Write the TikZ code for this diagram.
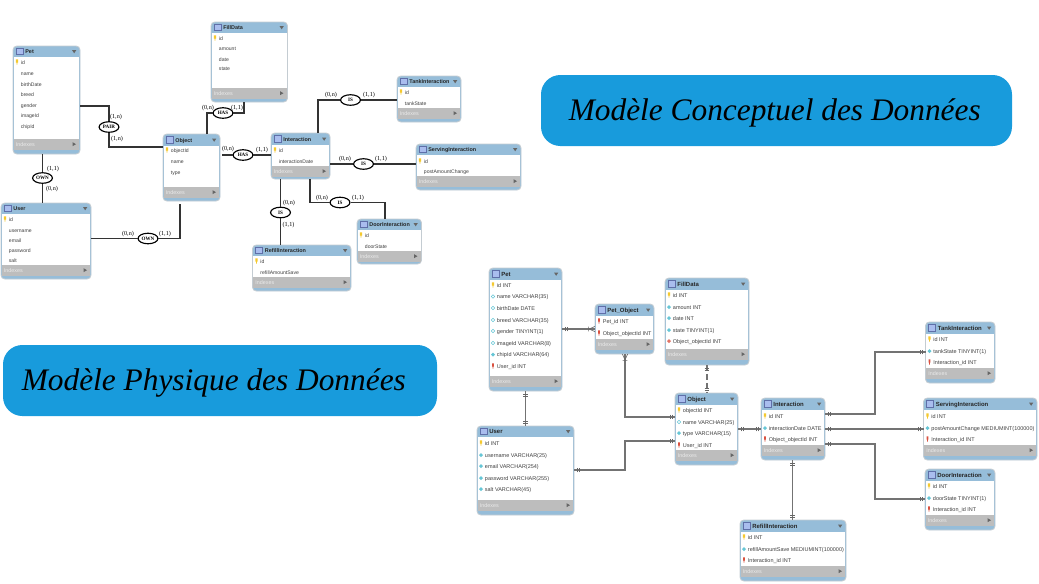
\documentclass[tikz,border=0pt]{standalone}
\usepackage{fontspec}
\setmainfont{Liberation Serif}
\setsansfont{Liberation Sans}
\usetikzlibrary{shapes.geometric,decorations.markings}
\definecolor{headblue}{HTML}{96BDD9}
\definecolor{indexgray}{HTML}{BDBDBD}
\definecolor{tableedge}{HTML}{C4CCD2}
\definecolor{bannerblue}{HTML}{189BDC}
\definecolor{iconblue}{HTML}{A9BDEE}
\definecolor{iconedge}{HTML}{5F6FA8}
\definecolor{keyyellow}{HTML}{F5C92E}
\definecolor{fkred}{HTML}{D9503F}
\definecolor{attrcyan}{HTML}{66C6D6}
\tikzset{
  tableshape/.style={draw=tableedge,line width=0.5pt,fill=headblue,rounded corners=2.2pt,anchor=north west,inner sep=0pt,outer sep=0pt},
  rowtext/.style={anchor=base west,inner sep=0pt,text=black!75,font=\sffamily\fontsize{2.9}{3}\selectfont},
  titletext/.style={anchor=base west,inner sep=0pt,text=black!85,font=\sffamily\bfseries\fontsize{3.1}{3.5}\selectfont},
  indextext/.style={anchor=base west,inner sep=0pt,text=white!92!black,font=\sffamily\fontsize{3.05}{3.5}\selectfont},
  bignames/.style={
    rowtext/.append style={font=\sffamily\fontsize{3.12}{3.5}\selectfont},
    titletext/.append style={font=\sffamily\bfseries\fontsize{3.4}{3.8}\selectfont}},
  assoc/.style={ellipse,draw=black,line width=0.65pt,fill=white,inner sep=0pt,minimum width=11.3pt,minimum height=6pt,font=\bfseries\fontsize{2.9}{3}\selectfont},
  card/.style={inner sep=0pt,text=black,font=\fontsize{3.5}{3.8}\selectfont},
  mcdline/.style={draw=black!80,line width=0.75pt},
  mpdline/.style={draw=black!55,line width=0.65pt},
  startticks/.style={postaction={decorate,decoration={markings,
    mark=at position 1.7pt with {\draw[solid,black!60,line width=0.3pt] (0,-1.3pt) -- (0,1.3pt);},
    mark=at position 2.9pt with {\draw[solid,black!60,line width=0.3pt] (0,-1.3pt) -- (0,1.3pt);}}}},
  endticks/.style={postaction={decorate,decoration={markings,
    mark=at position -1.7pt with {\draw[solid,black!60,line width=0.3pt] (0,-1.3pt) -- (0,1.3pt);},
    mark=at position -2.9pt with {\draw[solid,black!60,line width=0.3pt] (0,-1.3pt) -- (0,1.3pt);}}}},
  endcrow/.style={postaction={decorate,decoration={markings,
    mark=at position -3.6pt with {\draw[solid,black!60,line width=0.35pt] (0,-1.4pt) -- (0,1.4pt) (0.3pt,0) -- (3.6pt,1.5pt) (0.3pt,0) -- (3.6pt,-1.5pt);}}}},
  banner/.style={fill=bannerblue,rounded corners=11pt,inner sep=0pt,text height=13pt,text depth=1.2pt,font=\itshape\fontsize{17.85}{20}\selectfont}
}
% row markers, at the given pixel position
\newcommand{\markkey}[2]{\fill[keyyellow] (#1-1.1,#2-2.6) rectangle (#1+1.1,#2+0.6) (#1-0.45,#2+0.6) rectangle (#1+0.45,#2+2.6);}
\newcommand{\markfk}[2]{\fill[fkred] (#1-0.9,#2-2.6) rectangle (#1+0.9,#2+0.6) (#1-0.4,#2+0.6) rectangle (#1+0.4,#2+2.6);}
\newcommand{\markattr}[2]{\fill[attrcyan] (#1-2,#2) -- (#1,#2-2) -- (#1+2,#2) -- (#1,#2+2) -- cycle;}
\newcommand{\markopen}[2]{\draw[attrcyan,fill=white,line width=0.3pt] (#1-1.7,#2) -- (#1,#2-1.7) -- (#1+1.7,#2) -- (#1,#2+1.7) -- cycle;}
\newcommand{\markfkattr}[2]{\fill[fkred!80] (#1-2,#2) -- (#1,#2-2) -- (#1+2,#2) -- (#1,#2+2) -- cycle;}
\newcommand{\marknone}[2]{}
% name, x1, y1, x2, y2, header bottom, indexes top, title, rows (y/marker/text)
\newcommand{\tablebox}[9]{
  \pgfmathsetmacro\boxw{#4-#2}
  \pgfmathsetmacro\boxh{#5-#3}
  \node[tableshape,minimum width=\boxw*0.02cm,minimum height=\boxh*0.02cm] (#1) at (#2,#3) {};
  \fill[white] (#2+0.6,#6) rectangle (#4-0.6,#7);
  \fill[indexgray] (#2+0.6,#7) rectangle (#4-0.6,#7+10.5);
  \draw[fill=iconblue,draw=iconedge,line width=0.3pt] (#2+3,#3+2.4) rectangle (#2+10,#6-2.6);
  \node[titletext] (#1-title) at (#2+12,{(#3+#6)/2+2}) {#8};
  \fill[black!60] (#4-8,{(#3+#6)/2-1.5}) -- (#4-3.6,{(#3+#6)/2-1.5}) -- (#4-5.8,{(#3+#6)/2+1.8}) -- cycle;
  \node[indextext] (#1-indexes) at (#2+2.6,#7+7.1) {Indexes};
  \fill[black!60] (#4-7.5,#7+3.2) -- (#4-4,#7+5.2) -- (#4-7.5,#7+7.2) -- cycle;
  \foreach \rowy/\rowmark/\rowtext [count=\rowno] in {#9}{
    \csname mark\rowmark\endcsname{#2+4}{\rowy}
    \node[rowtext] (#1-\rowno) at (#2+7.6,\rowy+2.2) {\rowtext};
  }
}
\begin{document}
\begin{tikzpicture}[x=0.02cm,y=-0.02cm]
\useasboundingbox (0,0) rectangle (1039,583);

% banners
\node[banner,minimum width=471*0.02cm,minimum height=71*0.02cm] (mcdtitle) at (776.5,110.5) {Modèle Conceptuel des Données\kern2pt};
\node[banner,minimum width=434*0.02cm,minimum height=71*0.02cm] (mpdtitle) at (220,380.5) {Modèle Physique des Données\kern7pt};

% conceptual tables
\tablebox{pet}{13}{46}{80}{154}{57}{139}{Pet}{62/key/id,73/none/name,84/none/birthDate,94.5/none/breed,105/none/gender,115.5/none/imageId,126.5/none/chipId}
\tablebox{filldata}{211}{22}{287.5}{102}{33}{88}{FillData}{38/key/id,48.5/none/amount,59/none/date,68/none/state}
\tablebox{object}{163}{134}{220}{201}{146}{187}{Object}{150/key/objectId,161/none/name,172/none/type}
\tablebox{user}{1}{203}{91}{279}{214}{265}{User}{219/key/id,230/none/username,240/none/email,250/none/password,260/none/salt}
\tablebox{interaction}{271}{133}{330}{179}{145}{166}{Interaction}{150/key/id,161/none/interactionDate}
\tablebox{tank}{397}{76}{461}{122}{87}{108}{TankInteraction}{92/key/id,103/none/tankState}
\tablebox{serving}{416}{144}{521}{190}{155}{176}{ServingInteraction}{161/key/id,171.5/none/postAmountChange}
\tablebox{door}{357}{219}{421.5}{264}{230}{251}{DoorInteraction}{235/key/id,246/none/doorState}
\tablebox{refill}{252.5}{245}{351}{291}{256}{277}{RefillInteraction}{261/key/id,272/none/refillAmountSave}

% associations
\node[assoc] (pair) at (109,127) {PAIR};
\node[assoc] (ownpet) at (42.5,178) {OWN};
\node[assoc] (hasfill) at (223,113) {HAS};
\node[assoc] (hasinter) at (243,155) {HAS};
\node[assoc] (ownobject) at (148,238.5) {OWN};
\node[assoc] (istank) at (350.5,100) {IS};
\node[assoc] (isserving) at (363.5,164) {IS};
\node[assoc] (isdoor) at (340,202.5) {IS};
\node[assoc] (isrefill) at (280.5,212.5) {IS};

\coordinate (petout) at (80,106);
\coordinate (objectin) at (163,147);
\coordinate (fillout) at (244,102);
\coordinate (objecttop) at (207,134);
\coordinate (objectlow) at (180,204);
\coordinate (intertop) at (318,133);
\coordinate (interlow) at (310,179);
\coordinate (doortop) at (385,219);

\draw[mcdline] (petout) -| (pair);
\draw[mcdline] (pair) |- (objectin);
\draw[mcdline] (pet.south -| ownpet) -- (ownpet);
\draw[mcdline] (ownpet) -- (user.north -| ownpet);
\draw[mcdline] (objecttop) |- (hasfill);
\draw[mcdline] (hasfill) -| (fillout);
\draw[mcdline] (object.east |- hasinter) ++(2,0) -- (hasinter);
\draw[mcdline] (hasinter) -- (interaction.west |- hasinter);
\draw[mcdline] (user.east |- ownobject) -- (ownobject);
\draw[mcdline] (ownobject) -| (objectlow);
\draw[mcdline] (intertop) |- (istank);
\draw[mcdline] (istank) -- (tank.west |- istank);
\draw[mcdline] (interaction.east |- isserving) -- (isserving);
\draw[mcdline] (isserving) -- (serving.west |- isserving);
\draw[mcdline] (interlow) |- (isdoor);
\draw[mcdline] (isdoor) -| (doortop);
\draw[mcdline] (interaction.south -| isrefill) -- (isrefill);
\draw[mcdline] (isrefill) -- (refill.north -| isrefill);

% cardinalities
\node[card] (pairtop) at (116,117) {(1,n)};
\node[card] (pairlow) at (117,139) {(1,n)};
\node[card] (ownpettop) at (53,169) {(1,1)};
\node[card] (ownpetlow) at (52,189) {(0,n)};
\node[card] (hasfillleft) at (208,108) {(0,n)};
\node[card] (hasfillright) at (237,108) {(1,1)};
\node[card] (hasinterleft) at (228,149) {(0,n)};
\node[card] (hasinterright) at (262,150) {(1,1)};
\node[card] (ownobjectleft) at (128,234) {(0,n)};
\node[card] (ownobjectright) at (165,234) {(1,1)};
\node[card] (istankleft) at (331,95) {(0,n)};
\node[card] (istankright) at (369,95) {(1,1)};
\node[card] (isservingleft) at (345,159) {(0,n)};
\node[card] (isservingright) at (381,159) {(1,1)};
\node[card] (isdoorleft) at (322,198) {(0,n)};
\node[card] (isdoorright) at (358,198) {(1,1)};
\node[card] (isrefilltop) at (289,203) {(0,n)};
\node[card] (isrefilllow) at (288.5,225) {(1,1)};

% physical tables
\begin{scope}[bignames]
\tablebox{ppet}{489}{268}{562}{391}{280}{376}{Pet}{285/key/id INT,296.5/open/name VARCHAR(35),308/open/birthDate DATE,320/open/breed VARCHAR(35),331/open/gender TINYINT(1),343/open/imageId VARCHAR(8),354.5/attr/chipId VARCHAR(64),366/fk/User\_id INT}
\tablebox{ppetobject}{595}{304}{654}{354}{316}{339}{Pet\_Object}{321/fk/Pet\_id INT,333/fk/Object\_objectId INT}
\tablebox{pfilldata}{665}{278}{749}{365}{290}{349}{FillData}{295/key/id INT,307/attr/amount INT,318/attr/date INT,330/attr/state TINYINT(1),341/fkattr/Object\_objectId INT}
\tablebox{pobject}{675}{393}{738}{465}{405}{450}{Object}{410/key/objectId INT,422/open/name VARCHAR(25),433/attr/type VARCHAR(15),445/fk/User\_id INT}
\tablebox{puser}{477}{426}{574}{515}{437}{500}{User}{443/key/id INT,455/attr/username VARCHAR(25),466/attr/email VARCHAR(254),478/attr/password VARCHAR(255),489/attr/salt VARCHAR(45)}
\tablebox{pinteraction}{761}{398}{825}{460}{410}{445}{Interaction}{416/key/id INT,428/attr/interactionDate DATE,439/fk/Object\_objectId INT}
\tablebox{ptank}{925.5}{322}{995}{383}{334}{368}{TankInteraction}{339/key/id INT,351/attr/tankState TINYINT(1),362/fk/Interaction\_id INT}
\tablebox{pserving}{923.5}{398}{1037}{460}{410}{445}{ServingInteraction}{416/key/id INT,428/attr/postAmountChange MEDIUMINT(100000),439/fk/Interaction\_id INT}
\tablebox{pdoor}{925}{469}{995}{530}{481}{515}{DoorInteraction}{486/key/id INT,498/attr/doorState TINYINT(1),509/fk/Interaction\_id INT}
\tablebox{prefill}{740}{520}{846}{581}{532}{566}{RefillInteraction}{537/key/id INT,549/attr/refillAmountSave MEDIUMINT(100000),560/fk/Interaction\_id INT}
\end{scope}

% physical relations
\coordinate (ppetout) at (562,329);
\coordinate (ppetobjectin) at (595,329);
\coordinate (ppetuser) at (525.5,391);
\coordinate (pusertop) at (525.5,426);
\coordinate (ppetobjectlow) at (625,354);
\coordinate (pobjectone) at (675,417);
\coordinate (pfilllow) at (707,365);
\coordinate (pobjecttop) at (707,393);
\coordinate (puserout) at (574,470);
\coordinate (pobjecttwo) at (675,441);
\coordinate (pobjectout) at (738,429);
\coordinate (pinterin) at (761,429);
\coordinate (pinterone) at (825,414);
\coordinate (ptankin) at (925.5,352);
\coordinate (pintertwo) at (825,429);
\coordinate (pservingin) at (923.5,429);
\coordinate (pinterthree) at (825,444);
\coordinate (pdoorin) at (925,499);
\coordinate (pinterlow) at (792.5,460);
\coordinate (prefilltop) at (792.5,520);

\draw[mpdline,startticks,endticks] (ppetuser) -- (pusertop);
\draw[mpdline,startticks,endcrow] (ppetout) -- (ppetobjectin);
\draw[mpdline,startticks,endcrow] (pobjectone) -| (ppetobjectlow);
\draw[mpdline,startticks,endticks,dash pattern=on 3.5pt off 1.6pt] (pfilllow) -- (pobjecttop);
\draw[mpdline,startticks,endticks] (puserout) -- ++(51,0) |- (pobjecttwo);
\draw[mpdline,startticks,endticks] (pobjectout) -- (pinterin);
\draw[mpdline,startticks,endticks] (pinterone) -- ++(50,0) |- (ptankin);
\draw[mpdline,startticks,endticks] (pintertwo) -- (pservingin);
\draw[mpdline,startticks,endticks] (pinterthree) -- ++(50,0) |- (pdoorin);
\draw[mpdline,startticks,endticks] (pinterlow) -- (prefilltop);
\end{tikzpicture}
\end{document}
